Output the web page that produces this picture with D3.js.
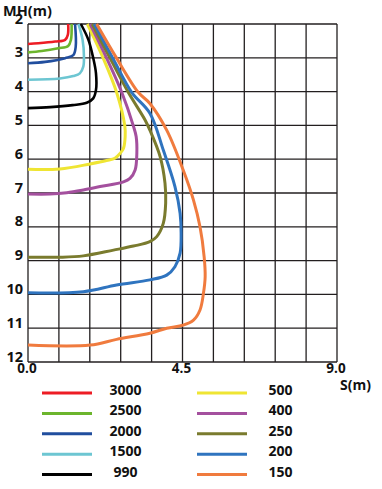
<!DOCTYPE html>
<html>
<head>
<meta charset="utf-8">
<script src="https://cdn.jsdelivr.net/npm/d3@7"></script>
<style>
  html, body { margin: 0; padding: 0; background: #fff; }
  svg { display: block; }
  text { font-family: "Open Sans", "DejaVu Sans", sans-serif; font-weight: 700; fill: #111; }
</style>
</head>
<body>
<svg id="chart" width="382" height="489"></svg>
<script>
// ---- data (S in m, MH in m) ----
const seriesNames = ["3000", "2500", "2000", "1500", "990", "500", "400", "250", "200", "150"];
const seriesColors = ["#ed1c24", "#6cb52d", "#214e9e", "#6dc6d2", "#000000", "#efe533", "#a4509e", "#7a7b2e", "#2f74bf", "#f07b3e"];

const s3000 = [[1.17,2.0],[1.16,2.32],[1.08,2.47],[0.79,2.52],[0.30,2.57],[0,2.59]];
const s2500 = [[1.27,2.0],[1.25,2.47],[1.17,2.65],[0.88,2.72],[0.40,2.80],[0,2.84]];
const s2000 = [[1.37,2.0],[1.39,2.67],[1.32,2.92],[1.08,3.01],[0.50,3.12],[0,3.16]];
const s1500 = [[1.47,2.0],[1.59,2.47],[1.63,2.97],[1.61,3.26],[1.51,3.46],[1.32,3.54],[0.93,3.61],[0,3.65]];
const s990  = [[1.54,2.0],[1.76,2.47],[1.90,3.01],[1.98,3.46],[1.98,3.95],[1.90,4.20],[1.71,4.33],[1.30,4.40],[0.65,4.46],[0,4.49]];
const s500  = [[1.73,2.0],[2.19,3.01],[2.58,4.02],[2.82,5.02],[2.83,5.33],[2.78,5.68],[2.68,5.83],[2.53,5.97],[2.29,6.04],[1.81,6.14],[0.93,6.29],[0,6.30]];
const s400  = [[1.81,2.0],[2.29,3.01],[2.73,4.02],[3.07,5.02],[3.15,5.33],[3.17,5.83],[3.12,6.32],[2.97,6.57],[2.78,6.67],[2.10,6.81],[1.61,6.91],[1.13,6.99],[0.64,7.03],[0,7.03]];
const s250  = [[1.87,2.0],[2.39,3.01],[2.92,4.02],[3.41,4.84],[3.55,5.14],[3.85,5.93],[3.99,6.71],[4.01,7.30],[3.94,7.90],[3.75,8.29],[3.55,8.44],[3.07,8.57],[2.49,8.69],[1.61,8.86],[0.93,8.90],[0,8.90]];
const s200  = [[1.93,2.0],[2.47,3.01],[3.02,4.02],[3.55,4.64],[3.94,5.73],[4.28,6.81],[4.43,7.60],[4.46,8.19],[4.43,8.78],[4.28,9.18],[4.04,9.43],[3.55,9.57],[2.58,9.72],[1.61,9.92],[0,9.95]];
const s150  = [[2.0,2.0],[2.58,3.01],[3.21,4.02],[3.55,4.35],[4.04,5.14],[4.52,6.32],[4.82,7.21],[5.01,8.0],[5.13,8.88],[5.16,9.48],[5.11,9.97],[5.01,10.46],[4.82,10.76],[4.52,10.91],[4.04,11.0],[3.55,11.15],[2.58,11.33],[1.81,11.50],[0,11.50]];
const seriesValues = [s3000, s2500, s2000, s1500, s990, s500, s400, s250, s200, s150];

const xTickLabels = ["0.0", "4.5", "9.0"];
const xTickValues = [0, 4.5, 9];
const yTickValues = [2, 3, 4, 5, 6, 7, 8, 9, 10, 11, 12];
const xGridValues = [0, 0.9, 1.8, 2.7, 3.6, 4.5, 5.4, 6.3, 7.2, 8.1, 9.0];

// ---- layout ----
const svg = d3.select("#chart");
const x = d3.scaleLinear().domain([0, 9]).range([28, 337]);
const y = d3.scaleLinear().domain([2, 12]).range([24, 362]);
const gridColor = "#231f20";

// grid
const grid = svg.append("g");
grid.selectAll("line.v").data(xGridValues).join("line")
  .attr("x1", d => x(d)).attr("x2", d => x(d))
  .attr("y1", y(2)).attr("y2", y(12))
  .attr("stroke", gridColor).attr("stroke-width", 1.3);
grid.selectAll("line.h").data(yTickValues).join("line")
  .attr("x1", x(0)).attr("x2", x(9))
  .attr("y1", d => y(d)).attr("y2", d => y(d))
  .attr("stroke", gridColor).attr("stroke-width", 1.3);

// y labels
svg.append("g").selectAll("text").data(yTickValues).join("text")
  .attr("x", 23).attr("y", d => y(d) - 0.5)
  .attr("text-anchor", "end")
  .style("font-size", "14.5px")
  .text(d => d);

// x labels
svg.append("g").selectAll("text").data(xTickValues).join("text")
  .attr("x", d => x(d) - 1).attr("y", 373)
  .attr("text-anchor", "middle")
  .style("font-size", "13.5px")
  .text((d, i) => xTickLabels[i]);

svg.append("text").attr("x", 3).attr("y", 15.5).style("font-size", "14.5px").text("MH(m)");
svg.append("text").attr("x", 340).attr("y", 390).style("font-size", "14px").text("S(m)");

// curves
const line = d3.line()
  .x(d => x(d[0])).y(d => y(d[1]))
  .curve(d3.curveCatmullRom.alpha(0.5));
svg.append("g").selectAll("path").data(seriesValues).join("path")
  .attr("d", d => line(d))
  .attr("fill", "none")
  .attr("stroke", (d, i) => seriesColors[i])
  .attr("stroke-width", (d, i) => i < 5 ? 2.6 : 3)
  .attr("stroke-linejoin", "round");

// legend
const legend = svg.append("g");
const rowY = i => 395 + (i % 5) * 20.4;
const colX = i => (i < 5 ? 0 : 155);
legend.selectAll("line").data(seriesNames).join("line")
  .attr("x1", (d, i) => 42 + colX(i)).attr("x2", (d, i) => 92 + colX(i))
  .attr("y1", (d, i) => rowY(i) - 2).attr("y2", (d, i) => rowY(i) - 2)
  .attr("stroke", (d, i) => seriesColors[i]).attr("stroke-width", 3);
legend.selectAll("text").data(seriesNames).join("text")
  .attr("x", (d, i) => 125.5 + colX(i)).attr("y", (d, i) => rowY(i))
  .attr("text-anchor", "middle")
  .style("font-size", "14px")
  .text(d => d);
</script>
</body>
</html>
